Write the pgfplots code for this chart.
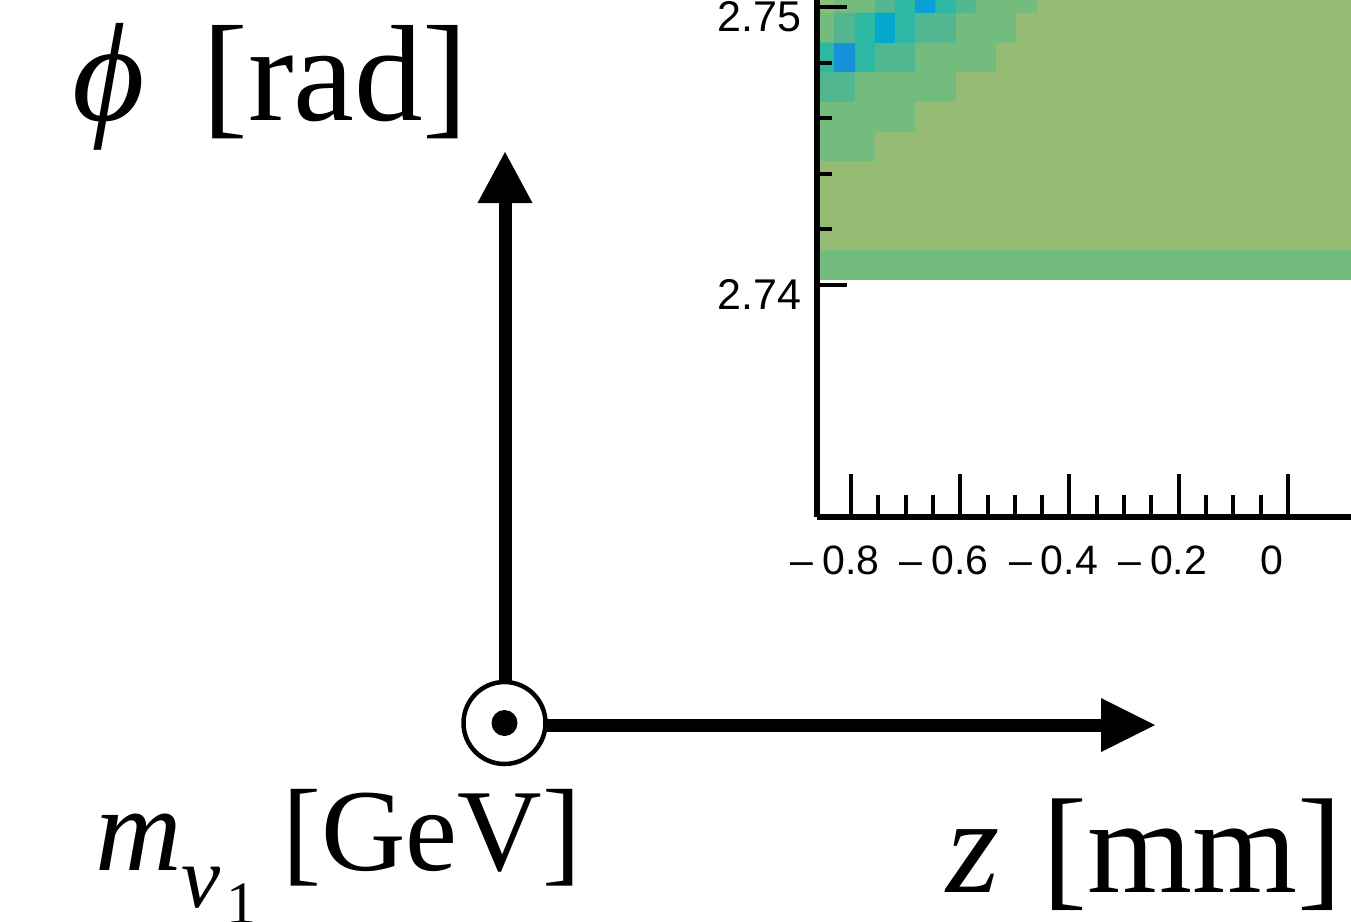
\documentclass[border=0pt]{standalone}
\usepackage{pgfplots}
\usepackage{pgfplotstable}
\pgfplotsset{compat=1.18}
\usepackage{fontspec}
\setmainfont{Liberation Serif}
\newfontfamily\labsans{Liberation Sans}

\pgfplotstableread{
x y c
-0.8478 2.74501 1
-0.8108 2.74501 1
-0.7739 2.74501 1
-0.7369 2.74501 0
-0.7000 2.74501 0
-0.6630 2.74501 0
-0.6260 2.74501 0
-0.5891 2.74501 0
-0.5521 2.74501 0
-0.5152 2.74501 0
-0.4782 2.74501 0
-0.8478 2.74608 1
-0.8108 2.74608 1
-0.7739 2.74608 1
-0.7369 2.74608 1
-0.7000 2.74608 1
-0.6630 2.74608 0
-0.6260 2.74608 0
-0.5891 2.74608 0
-0.5521 2.74608 0
-0.5152 2.74608 0
-0.4782 2.74608 0
-0.8478 2.74715 3
-0.8108 2.74715 3
-0.7739 2.74715 1
-0.7369 2.74715 1
-0.7000 2.74715 1
-0.6630 2.74715 1
-0.6260 2.74715 1
-0.5891 2.74715 0
-0.5521 2.74715 0
-0.5152 2.74715 0
-0.4782 2.74715 0
-0.8478 2.74822 4
-0.8108 2.74822 7
-0.7739 2.74822 4
-0.7369 2.74822 3
-0.7000 2.74822 3
-0.6630 2.74822 1
-0.6260 2.74822 1
-0.5891 2.74822 1
-0.5521 2.74822 1
-0.5152 2.74822 0
-0.4782 2.74822 0
-0.8478 2.74929 1
-0.8108 2.74929 3
-0.7739 2.74929 4
-0.7369 2.74929 5
-0.7000 2.74929 4
-0.6630 2.74929 3
-0.6260 2.74929 3
-0.5891 2.74929 1
-0.5521 2.74929 1
-0.5152 2.74929 1
-0.4782 2.74929 0
-0.8478 2.75036 2
-0.8108 2.75036 1
-0.7739 2.75036 1
-0.7369 2.75036 3
-0.7000 2.75036 4
-0.6630 2.75036 6
-0.6260 2.75036 4
-0.5891 2.75036 3
-0.5521 2.75036 1
-0.5152 2.75036 1
-0.4782 2.75036 1
}\hmdata

\definecolor{hmolive}{RGB}{150,187,114}
\definecolor{hmgreen}{RGB}{116,188,126}

\begin{document}
\begin{tikzpicture}[x=0.5pt,y=-0.5pt]
\useasboundingbox (0,0) rectangle (1351,922);
\clip (0,0) rectangle (1351,922);
\coordinate (A) at (817,516.7);

% heat map with x axis
\begin{axis}[
  at={(A)}, anchor=south west,
  scale only axis, width=290.2pt, height=289.3pt,
  xmin=-0.862, xmax=0.2, ymin=2.73165, ymax=2.7525,
  axis x line*=bottom, axis y line=none,
  axis line style={line width=3pt, black},
  every outer x axis line/.append style={line width=3pt},
  every tick/.style={black, line width=2pt},
  tick align=inside,
  major tick length=21.5pt, minor tick length=11pt,
  xtick={-0.8,-0.6,-0.4,-0.2,0},
  xticklabels={–\hspace{0.22em}0.8,–\hspace{0.22em}0.6,–\hspace{0.22em}0.4,–\hspace{0.22em}0.2,0},
  minor x tick num=3,
  extra x ticks={0.2}, extra x tick labels={},
  xticklabel style={font=\labsans\fontsize{20.5}{22}\selectfont, anchor=north, xshift=-8pt, yshift=-14.5pt, inner sep=0pt},
  colormap={hm}{rgb255=(150,187,114) rgb255=(116,188,126) rgb255=(140,190,118) rgb255=(82,183,145) rgb255=(44,184,162) rgb255=(4,168,204) rgb255=(10,160,215) rgb255=(22,144,216)},
  colormap access=direct,
]
\addplot[fill=hmolive, draw=none] coordinates {(-0.9,2.741261) (0.5,2.741261) (0.5,2.7515) (-0.9,2.7515)} -- cycle;
\addplot[fill=hmgreen, draw=none] coordinates {(-0.9,2.74018) (0.5,2.74018) (0.5,2.741261) (-0.9,2.741261)} -- cycle;
\addplot[matrix plot*, mesh/cols=11, point meta=explicit] table[meta=c] {\hmdata};
\end{axis}

% y axis
\begin{axis}[
  at={(A)}, anchor=south west,
  scale only axis, width=290.2pt, height=289.3pt,
  xmin=-0.862, xmax=0.2, ymin=2.73165, ymax=2.7525,
  axis y line*=left, axis x line=none,
  axis line style={line width=3pt, black},
  every outer y axis line/.append style={line width=3pt},
  every tick/.style={black, line width=2pt},
  tick align=inside,
  major tick length=15pt, minor tick length=7.5pt,
  ytick={2.74,2.75}, yticklabels={2.74,2.75},
  minor y tick num=4,
  yticklabel style={font=\labsans\fontsize{21.5}{23}\selectfont, anchor=east, xshift=-7.5pt, yshift=-4.5pt, inner sep=0pt},
]
\addplot[draw=none] coordinates {(-0.5,2.745)};
\end{axis}

% coordinate arrows
\draw[line width=6.5pt] (505,685) -- (505,200);
\fill (477.5,203) -- (532.5,203) -- (505,152) -- cycle;
\draw[line width=6.5pt] (546,725) -- (1104,725);
\fill (1101,698) -- (1101,752) -- (1155,725) -- cycle;
\draw[line width=2.25pt, fill=white] (504.5,723) circle [radius=20.5pt];
\fill (504.5,723) circle [radius=6.5pt];

% labels
\node[anchor=base west, inner sep=0pt, font=\fontsize{70}{72}\selectfont] at (72,120) {\textit{ϕ}};
\node[anchor=base west, inner sep=0pt, font=\fontsize{68.5}{70}\selectfont] at (202,120) {[rad]};
\node[anchor=base west, inner sep=0pt, font=\fontsize{60}{62}\selectfont] at (95,870) {\textit{m}};
\node[anchor=base west, inner sep=0pt, font=\fontsize{44}{46}\selectfont] at (181,907) {\textit{ν}};
\node[anchor=base west, inner sep=0pt, font=\fontsize{30}{32}\selectfont] at (226,923.5) {1};
\node[anchor=base west, inner sep=0pt, font=\fontsize{58.5}{60}\selectfont] at (282,870) {[GeV]};
\node[anchor=base west, inner sep=0pt, font=\fontsize{68.5}{70}\selectfont] at (946,892) {\textit{z}};
\node[anchor=base west, inner sep=0pt, font=\fontsize{67.5}{70}\selectfont] at (1042,892) {[mm]};
\end{tikzpicture}
\end{document}
